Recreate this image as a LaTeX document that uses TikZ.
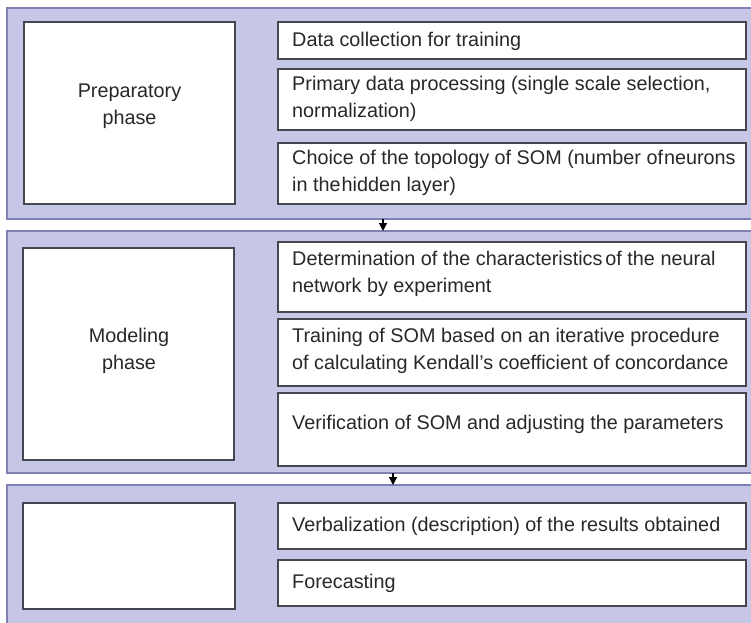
\documentclass[tikz,border=0pt]{standalone}
\usepackage{fontspec}
\setmainfont{Liberation Sans}
\usetikzlibrary{arrows.meta}
\definecolor{panelfill}{RGB}{198,198,230}
\definecolor{panelline}{RGB}{128,128,178}
\definecolor{boxline}{RGB}{70,70,80}
\definecolor{txt}{RGB}{40,40,40}
\begin{document}
\begin{tikzpicture}[x=1pt,y=-1pt,
  panel/.style={fill=panelfill,draw=panelline,line width=1.5pt},
  phasebox/.style={draw=boxline,fill=white,line width=1.2pt},
  stepbox/.style={draw=boxline,fill=white,line width=1.2pt},
  lbl/.style={font=\fontsize{19.8}{27}\selectfont,text=txt,align=left,anchor=west,inner sep=0pt},
  clbl/.style={font=\fontsize{19.8}{27}\selectfont,text=txt,align=center,inner sep=0pt},
  flow/.style={-{Triangle[length=8pt,width=8pt]},line width=1.2pt,black}]
\useasboundingbox (0,0) rectangle (751,622);
\fill[white] (0,0) rectangle (751,622);
% panels
\draw[panel] (760,8) -- (7,8) -- (7,219) -- (760,219);
\draw[panel] (760,231) -- (7,231) -- (7,473) -- (760,473);
\fill[panelfill] (7,485) rectangle (760,630);
\draw[panelline,line width=1.5pt] (760,485) -- (7,485) -- (7,630);
% phase 1
\draw[phasebox] (24,22) rectangle (235,204);
\node[clbl] (p1) at (129.5,106) {Preparatory\\phase};
\draw[stepbox] (278,22) rectangle (746,59);
\node[lbl] (a1) at (292,41) {Data collection for training};
\draw[stepbox] (278,69) rectangle (746,130);
\node[lbl] (a2) at (292,99) {Primary data processing (single scale selection,\\normalization)};
\draw[stepbox] (278,143) rectangle (746,204);
\node[lbl] (a3) at (292,173) {Choice of the topology of SOM (number of\hspace{0.05em}neurons\\in the\hspace{0.05em}hidden layer)};
% phase 2
\draw[phasebox] (23,248) rectangle (234,460);
\node[clbl] (p2) at (129,351) {Modeling\\phase};
\draw[stepbox] (278,242) rectangle (746,312);
\node[lbl] (b1) at (292,274) {Determination of the characteristics\hspace{0.15em}of the neural\\network by experiment};
\draw[stepbox] (278,319) rectangle (746,386);
\node[lbl] (b2) at (292,351) {Training of SOM based on an iterative procedure\\of calculating Kendall’s coefficient of concordance};
\draw[stepbox] (278,393) rectangle (746,466);
\node[lbl] (b3) at (292,424) {Verification of SOM and adjusting the parameters};
% phase 3
\draw[phasebox] (23,503) rectangle (235,609);
\draw[stepbox] (278,503) rectangle (746,549);
\node[lbl] (c1) at (292,526) {Verbalization (description) of the results obtained};
\draw[stepbox] (278,560) rectangle (746,606);
\node[lbl] (c2) at (292,583) {Forecasting};
% arrows
\coordinate (s1) at (383,219);
\coordinate (e1) at (383,231);
\coordinate (s2) at (393,473);
\coordinate (e2) at (393,485);
\draw[flow] (s1) -- (e1);
\draw[flow] (s2) -- (e2);
\end{tikzpicture}
\end{document}
